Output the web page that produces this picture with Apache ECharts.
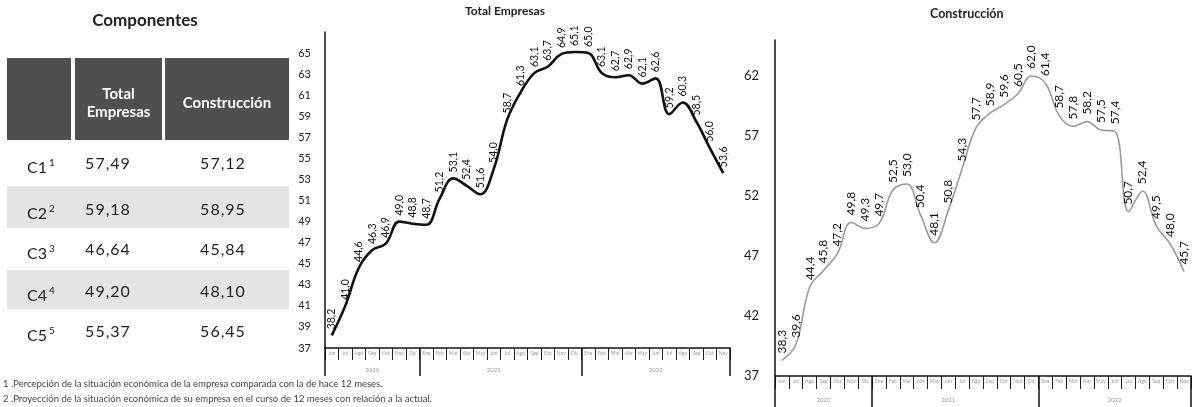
<!DOCTYPE html>
<html>
<head>
<meta charset="utf-8">
<script src="https://cdn.jsdelivr.net/npm/echarts@6/dist/echarts.min.js"></script>
<style>
  html, body { margin: 0; padding: 0; background: #fff; }
  #wrap { position: relative; width: 1193px; height: 407px; overflow: hidden; font-family: Lato, "Open Sans", sans-serif; }
  #chart { position: absolute; left: 0; top: 0; width: 1193px; height: 407px; }
  #tbl { position: absolute; left: 0; top: 0; width: 300px; height: 407px; pointer-events: none; }
  .t { position: absolute; white-space: nowrap; }
</style>
</head>
<body>
<div id="wrap">
  <div id="chart"></div>
  <div id="tbl"></div>
</div>
<script>
// ---- data ----
const months = ['Jun','Jul','Ago','Sep','Oct','Nov','Dic',
  'Ene','Feb','Mar','Abr','May','Jun','Jul','Ago','Sep','Oct','Nov','Dic',
  'Ene','Feb','Mar','Abr','May','Jun','Jul','Ago','Sep','Oct','Nov'];
const years = ['2020', '2021', '2022'];
const yearStart = [0, 7, 19];
const totalEmpresas = [38.2, 41.0, 44.6, 46.3, 46.9, 49.0, 48.8, 48.7, 51.2, 53.1, 52.4, 51.6, 54.0, 58.7, 61.3,
  63.1, 63.7, 64.9, 65.1, 65.0, 63.1, 62.7, 62.9, 62.1, 62.6, 59.2, 60.3, 58.5, 56.0, 53.6];
const construccion = [38.3, 39.6, 44.4, 45.8, 47.2, 49.8, 49.3, 49.7, 52.5, 53.0, 50.4, 48.1, 50.8, 54.3, 57.7,
  58.9, 59.6, 60.5, 62.0, 61.4, 58.7, 57.8, 58.2, 57.5, 57.4, 50.7, 52.4, 49.5, 48.0, 45.7];
const componentes = ['C1', 'C2', 'C3', 'C4', 'C5'];
const compTotal = ['57,49', '59,18', '46,64', '49,20', '55,37'];
const compConstr = ['57,12', '58,95', '45,84', '48,10', '56,45'];
const footnotes = [
  '1 .Percepción de la situación económica de la empresa comparada con la de hace 12 meses.',
  '2 .Proyección de la situación económica de su empresa en el curso de 12 meses con relación a la actual.'
];

// ---- table (HTML) ----
const tbl = document.getElementById('tbl');
let h = '';
h += '<div class="t" style="left:0;width:290px;text-align:center;top:9px;font-size:17px;font-weight:bold;color:#222;">Componentes</div>';
const hdrBg = 'background:#4f4f4f;';
h += '<div class="t" style="left:7px;top:58px;width:64px;height:82px;' + hdrBg + '"></div>';
h += '<div class="t" style="left:75px;top:58px;width:87px;height:82px;' + hdrBg + '"></div>';
h += '<div class="t" style="left:165px;top:58px;width:124px;height:82px;' + hdrBg + '"></div>';
h += '<div class="t" style="left:75px;width:87px;top:84px;text-align:center;color:#fff;font-weight:bold;font-size:15px;line-height:18px;">Total<br>Empresas</div>';
h += '<div class="t" style="left:165px;width:124px;top:93px;text-align:center;color:#fff;font-weight:bold;font-size:15px;line-height:18px;">Construcción</div>';
const rowY = [163, 209, 249, 291, 331];
const bands = [null, [186, 228], null, [270, 309], null];
for (let i = 0; i < componentes.length; i++) {
  if (bands[i]) {
    h += '<div class="t" style="left:7px;width:282px;top:' + bands[i][0] + 'px;height:' + (bands[i][1] - bands[i][0]) + 'px;background:#e4e4e4;"></div>';
  }
  const y = rowY[i] - 10;
  h += '<div class="t" style="left:27px;top:' + y + 'px;font-size:16px;line-height:20px;color:#222;">' + componentes[i] + '<sup style="font-size:10px;position:relative;top:-1px;margin-left:2px;">' + (i + 1) + '</sup></div>';
  h += '<div class="t" style="left:60px;width:96px;text-align:center;top:' + y + 'px;font-size:16px;line-height:20px;color:#222;letter-spacing:1px;">' + compTotal[i] + '</div>';
  h += '<div class="t" style="left:175px;width:96px;text-align:center;top:' + y + 'px;font-size:16px;line-height:20px;color:#222;letter-spacing:1px;">' + compConstr[i] + '</div>';
}
h += '<div class="t" style="left:3px;top:378px;font-size:9.5px;color:#444;">' + footnotes[0] + '</div>';
h += '<div class="t" style="left:3px;top:393px;font-size:9.5px;color:#444;">' + footnotes[1] + '</div>';
tbl.innerHTML = h;

// ---- chart ----
const chart = echarts.init(document.getElementById('chart'), null, { renderer: 'canvas' });
const FONT = 'Lato, "Open Sans", sans-serif';
const fmt = p => Number(p.value).toFixed(1).replace('.', ',');
const yearMid = i => {
  for (let k = 0; k < yearStart.length; k++) {
    const s = yearStart[k], e = (k + 1 < yearStart.length ? yearStart[k + 1] : months.length) - 1;
    if (i === Math.floor((s + e) / 2)) return years[k];
  }
  return '';
};

function monthAxis(gi, tickLen) {
  return {
    type: 'category', gridIndex: gi, data: months, boundaryGap: true, position: 'bottom',
    axisLine: { show: true, lineStyle: { color: '#111', width: 1.5 } },
    axisTick: { show: true, length: tickLen, lineStyle: { color: '#222', width: 1 }, interval: 0 },
    axisLabel: { show: true, interval: 0, fontSize: 5, color: '#999', margin: 3, fontFamily: FONT }
  };
}
function yearAxis(gi, tickLen, margin) {
  return {
    type: 'category', gridIndex: gi, data: months, boundaryGap: true, position: 'bottom',
    axisLine: { show: false },
    axisTick: { show: true, length: tickLen, lineStyle: { color: '#111', width: 1.5 },
      interval: (i) => yearStart.indexOf(i) >= 0 },
    axisLabel: { show: true, interval: 0, fontSize: 6, color: '#999', margin: margin, fontFamily: FONT,
      formatter: (v, i) => yearMid(i) }
  };
}

function lineSeries(name, xi, yi, data, color, width, fs, dist) {
  return {
    type: 'line', name: name, xAxisIndex: xi, yAxisIndex: yi, data: data,
    smooth: 0.4, symbol: 'circle', symbolSize: 2, showSymbol: true, showAllSymbol: true,
    itemStyle: { color: 'rgba(0,0,0,0)', borderWidth: 0 },
    lineStyle: { color: color, width: width },
    label: { show: true, position: 'top', rotate: 90, align: 'left', verticalAlign: 'middle', distance: dist,
      fontSize: fs, color: '#111', opacity: 1, fontFamily: FONT, formatter: fmt },
    labelLayout: { hideOverlap: false },
    emphasis: { disabled: true }
  };
}

const option = {
  animation: false,
  textStyle: { fontFamily: FONT },
  grid: [
    { left: 325, right: 463, top: 32, bottom: 59 },
    { left: 775, right: 2, top: 40, bottom: 31 }
  ],
  xAxis: [
    monthAxis(0, 12), yearAxis(0, 28, 19),
    monthAxis(1, 13), yearAxis(1, 31, 21)
  ],
  yAxis: [
    { type: 'value', gridIndex: 0, min: 37, max: 67, interval: 1,
      axisLine: { show: true, lineStyle: { color: '#111', width: 1.5 } },
      axisTick: { show: false }, splitLine: { show: false },
      axisLabel: { fontSize: 11, color: '#222', margin: 14, fontFamily: FONT,
        formatter: v => (v % 2 === 1 && v <= 65) ? String(v) : '' } },
    { type: 'value', gridIndex: 1, min: 37, max: 65, interval: 1,
      axisLine: { show: true, lineStyle: { color: '#111', width: 1.5 } },
      axisTick: { show: false }, splitLine: { show: false },
      axisLabel: { fontSize: 13, color: '#222', margin: 16, fontFamily: FONT,
        formatter: v => ((v - 37) % 5 === 0 && v <= 62) ? String(v) : '' } }
  ],
  series: [
    lineSeries('Total Empresas', 0, 0, totalEmpresas, '#111', 2.6, 10.5, 5),
    lineSeries('Construcción', 2, 1, construccion, '#9a9a9a', 1.6, 12, 6)
  ],
  graphic: [
    { type: 'text', left: 465, top: 5, style: { text: 'Total Empresas', fontSize: 12, fontWeight: 'bold', fill: '#222', fontFamily: FONT } },
    { type: 'text', left: 930, top: 7, style: { text: 'Construcción', fontSize: 12.5, fontWeight: 'bold', fill: '#222', fontFamily: FONT } }
  ]
};
chart.setOption(option);
</script>
</body>
</html>
